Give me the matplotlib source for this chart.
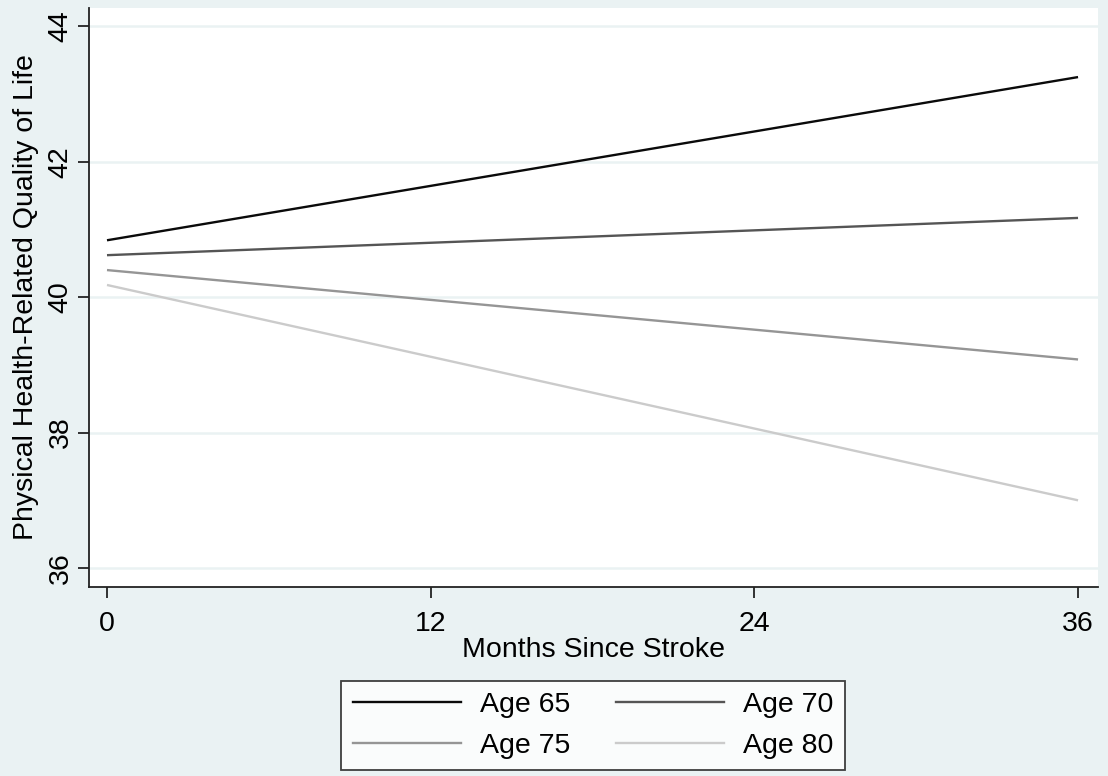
import matplotlib
matplotlib.use("Agg")
import matplotlib.pyplot as plt
from matplotlib.lines import Line2D

plt.rcParams['font.family'] = ['Liberation Sans', 'DejaVu Sans']

# Data (model-predicted trajectories, straight lines from month 0 to 36)
months = [0, 36]
series_labels = ["Age 65", "Age 70", "Age 75", "Age 80"]
age65 = [40.84, 43.25]
age70 = [40.62, 41.17]
age75 = [40.40, 39.08]
age80 = [40.18, 37.00]
x_ticks = [0, 12, 24, 36]
y_ticks = [36, 38, 40, 42, 44]

colors = ["#0a0a0a", "#555555", "#959595", "#cbcbcb"]
bg = "#EAF2F3"
FS = 20.5

fig = plt.figure(figsize=(11.08, 7.76), dpi=100, facecolor=bg)
ax = fig.add_axes([89/1108, 1-587/776, (1098-89)/1108, (587-8)/776])
ax.set_facecolor("white")

for vals, lab, c in zip([age65, age70, age75, age80], series_labels, colors):
    ax.plot(months, vals, color=c, lw=1.7, label=lab, solid_capstyle='butt')

ax.set_xlim(-0.667, 36.74)
ax.set_ylim(35.72, 44.27)
ax.set_xticks(x_ticks)
ax.set_yticks(y_ticks)
ax.yaxis.grid(True, color=bg, lw=1.8)
ax.set_axisbelow(True)

for s in ["top", "right"]:
    ax.spines[s].set_visible(False)
for s in ["left", "bottom"]:
    ax.spines[s].set_linewidth(1.3)
    ax.spines[s].set_color("#222222")

ax.tick_params(axis='both', direction='out', length=8, width=1.3, color="#222222",
               labelsize=FS)
ax.tick_params(axis='x', pad=9.5)
ax.tick_params(axis='y', pad=3, labelrotation=90)
for lbl in ax.get_yticklabels():
    lbl.set_va('center')

ax.set_xlabel("Months Since Stroke", fontsize=FS, labelpad=0)
ax.set_ylabel("Physical Health-Related Quality of Life", fontsize=FS, labelpad=6)

handles = [Line2D([], [], color=c, lw=1.7) for c in colors]
order = [0, 2, 1, 3]
leg = fig.legend([handles[i] for i in order], [series_labels[i] for i in order],
                 loc='upper center', bbox_to_anchor=(593/1108, 1-681/776),
                 bbox_transform=fig.transFigure, ncol=2, fontsize=FS,
                 frameon=True, fancybox=False, edgecolor="#111111",
                 handlelength=3.8, handletextpad=0.67, columnspacing=1.6,
                 labelspacing=0.5, borderpad=0.4, borderaxespad=0)
leg.get_frame().set_linewidth(1.3)
leg.get_frame().set_facecolor("white")

fig.savefig("out.png", dpi=100, facecolor=bg)
